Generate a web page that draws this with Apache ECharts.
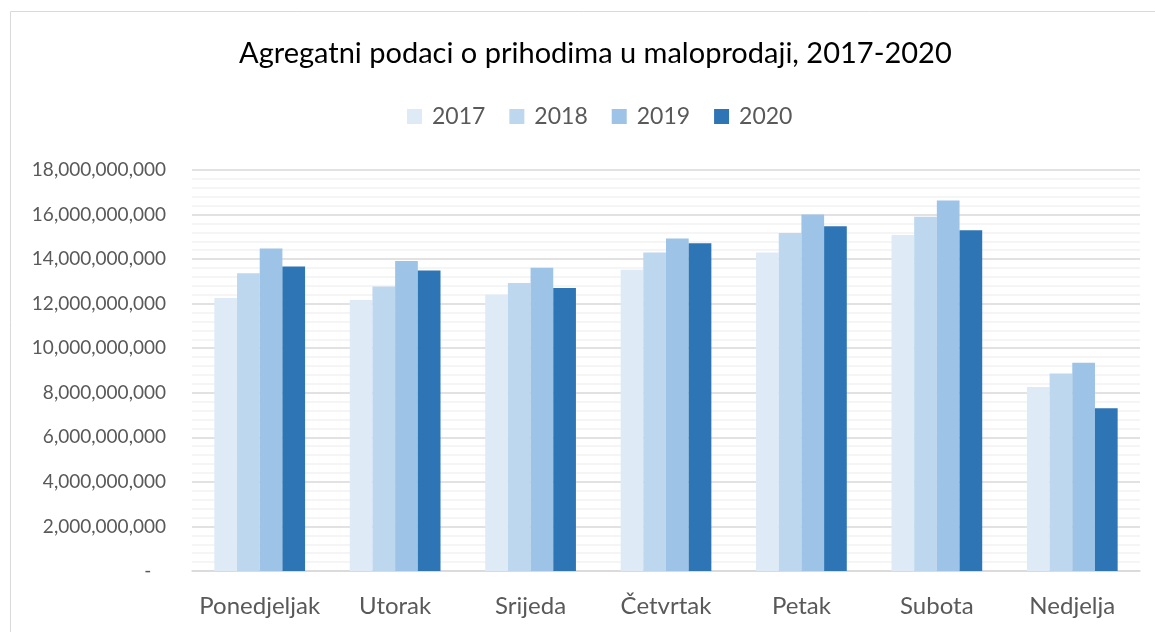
<!DOCTYPE html>
<html><head><meta charset="utf-8">
<script src="https://cdn.jsdelivr.net/npm/echarts@6/dist/echarts.min.js"></script>
<style>html,body{margin:0;padding:0;background:#fff}#c{width:1155px;height:632px}</style>
</head><body><div id="c"></div>
<script>
var categories = ['Ponedjeljak','Utorak','Srijeda','Četvrtak','Petak','Subota','Nedjelja'];
var seriesNames = ['2017','2018','2019','2020'];
var v2017 = [12250000000,12160000000,12410000000,13520000000,14300000000,15080000000,8260000000];
var v2018 = [13370000000,12770000000,12930000000,14300000000,15170000000,15900000000,8870000000];
var v2019 = [14480000000,13910000000,13610000000,14920000000,16000000000,16630000000,9350000000];
var v2020 = [13670000000,13490000000,12700000000,14710000000,15470000000,15300000000,7300000000];
var colors = ['#DEEBF7','#BDD7EE','#9DC3E6','#2E75B6'];
var font = 'Lato';
var chart = echarts.init(document.getElementById('c'));
function fmt(v){ if(v===0) return '-   '; return v.toString().replace(/\B(?=(\d{3})+(?!\d))/g, ','); }
var data = [v2017, v2018, v2019, v2020];
chart.setOption({
  animation:false,
  color: colors,
  title:{text:'Agregatni podaci o prihodima u maloprodaji, 2017-2020', left:234, top:34,
    textStyle:{fontFamily:font, fontWeight:'normal', fontSize:29, color:'#000'}},
  legend:{top:100, left:402, itemWidth:15, itemHeight:15, itemGap:24, icon:'rect',
    textStyle:{fontFamily:font, fontSize:23, color:'#595959', padding:[0,0,0,5]}, data:seriesNames},
  graphic:[{type:'rect', shape:{x:10.5,y:11.5,width:1300,height:800}, style:{fill:'none', stroke:'#D9D9D9', lineWidth:1}}],
  grid:{left:192, right:15, top:170, bottom:61, containLabel:false},
  xAxis:{type:'category', data:categories,
    axisLine:{lineStyle:{color:'#D9D9D9', width:1.5}}, axisTick:{show:false},
    axisLabel:{interval:0, fontFamily:font, fontSize:24, color:'#595959', margin:23}},
  yAxis:{type:'value', min:0, max:18000000000, interval:2000000000,
    axisLabel:{formatter:fmt, fontFamily:font, fontSize:19, color:'#595959', margin:26},
    splitLine:{lineStyle:{color:'#D9D9D9', width:1.5}},
    minorTick:{show:false, splitNumber:5},
    minorSplitLine:{show:true, lineStyle:{color:'#F2F2F2', width:1.5}},
    axisLine:{show:false}, axisTick:{show:false}},
  series: seriesNames.map(function(n,i){ return {name:n, type:'bar', data:data[i], barGap:'0%', barCategoryGap:'33%'}; })
});
</script></body></html>
